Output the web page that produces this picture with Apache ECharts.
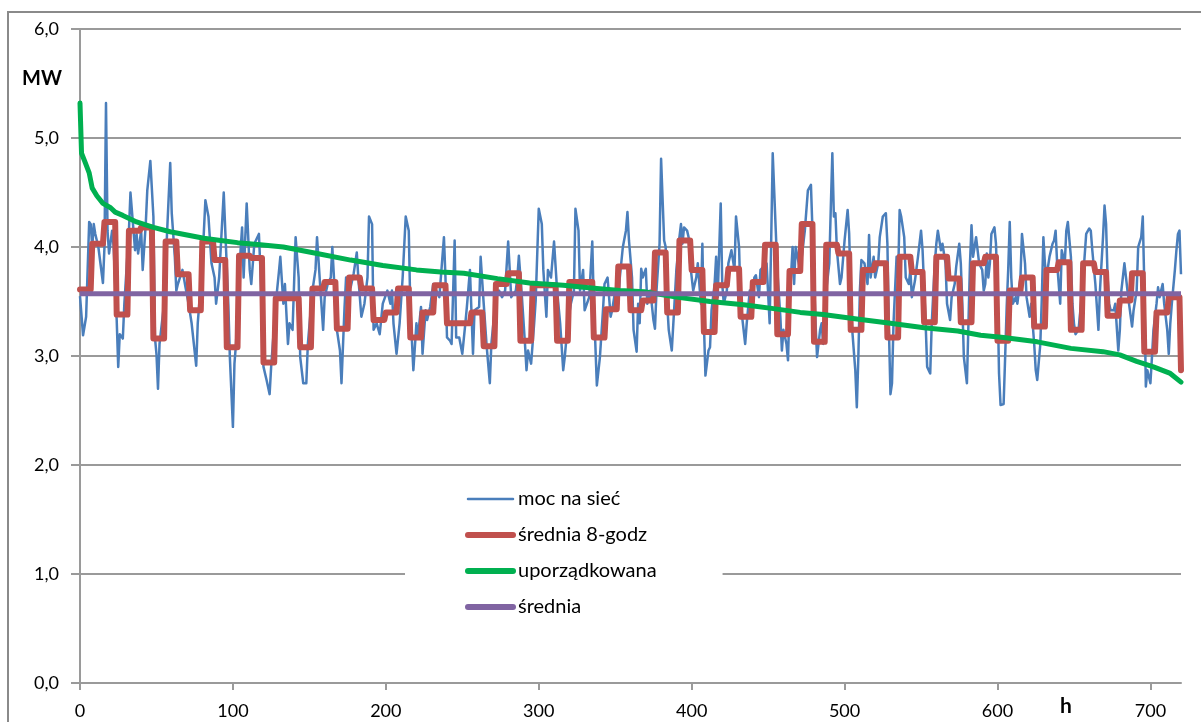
<!DOCTYPE html>
<html>
<head>
<meta charset="utf-8">
<script src="https://cdn.jsdelivr.net/npm/echarts@6/dist/echarts.min.js"></script>
<style>
html,body{margin:0;padding:0;background:#fff;}
#chart{width:1201px;height:722px;}
</style>
</head>
<body>
<div id="chart"></div>
<script>
// ---- data ----
const seriesNames = ['moc na sieć', 'średnia 8-godz', 'uporządkowana', 'średnia'];
const xTicks = [0, 100, 200, 300, 400, 500, 600, 700];
const yTicks = [0, 1, 2, 3, 4, 5, 6];

// hourly power to grid [hour, MW] (read at turning points)
const mocNaSiec = [
[0,3.55],[2,3.19],[4,3.36],[6,4.23],[7,4.21],[8,4.00],[9,4.21],[10,4.12],[12,4.00],[15,3.67],[16,4.00],[17,5.32],[18,4.15],[19,3.94],[21,4.15],[22,4.00],[24,3.33],[25,2.90],[26,3.20],[28,3.16],[29,3.48],
[32,4.15],[33,4.50],[35,4.15],[36,3.97],[37,4.12],[38,3.94],[40,4.15],[41,3.79],[43,4.21],[44,4.52],[46,4.79],[48,4.28],[49,3.17],[50,3.02],[51,2.70],[52,3.11],[55,3.48],[57,4.15],[59,4.77],[60,4.31],
[62,3.91],[63,3.60],[64,3.66],[67,3.79],[69,3.63],[71,3.48],[73,3.30],[76,2.91],[77,3.30],[80,3.85],[82,4.43],[84,4.28],[86,3.85],[88,3.72],[89,3.48],[91,3.72],[94,4.50],[95,4.15],[97,3.48],[98,2.99],
[100,2.35],[101,2.93],[102,3.11],[105,3.97],[106,4.18],[107,3.72],[109,4.40],[111,3.79],[112,3.66],[114,4.03],[117,4.12],[118,3.79],[120,2.90],[122,2.78],[124,2.65],[125,2.90],[128,3.48],[130,3.76],
[131,3.91],[133,3.48],[134,3.66],[136,3.11],[137,3.30],[139,3.24],[141,4.09],[143,3.72],[144,2.99],[146,2.75],[148,2.75],[149,3.11],[152,3.60],[154,3.79],[155,4.09],[157,3.66],[159,3.24],[160,3.54],
[162,3.66],[164,3.72],[165,4.00],[167,3.48],[168,3.24],[170,3.05],[171,2.75],[173,3.45],[174,3.72],[177,3.63],[179,3.76],[181,3.95],[182,3.72],[184,3.36],[186,3.48],[188,3.72],[189,4.28],[191,4.21],
[192,3.24],[194,3.30],[196,3.20],[198,3.48],[201,3.60],[203,3.48],[204,3.60],[205,3.30],[207,3.02],[209,3.30],[211,3.72],[213,4.28],[215,4.15],[216,3.45],[218,2.87],[220,3.30],[221,3.17],[223,3.45],
[224,3.02],[226,3.42],[227,3.33],[229,3.45],[231,3.66],[233,3.60],[235,3.54],[238,4.09],[239,3.72],[240,3.17],[242,3.14],[243,3.11],[245,4.06],[246,3.17],[248,3.17],[250,3.02],[252,3.30],[253,3.45],
[255,3.79],[257,3.02],[258,3.42],[261,3.45],[262,3.91],[264,3.48],[266,3.08],[268,2.75],[269,3.11],[272,3.54],[274,3.60],[276,3.54],[278,3.60],[280,4.05],[282,3.54],[285,3.60],[286,3.72],[287,3.92],
[289,3.54],[291,3.11],[292,2.87],[293,3.05],[295,2.93],[297,3.30],[298,3.51],[300,4.35],[302,4.21],[303,3.79],[305,3.36],[306,3.79],[308,3.72],[310,4.05],[312,3.60],[314,3.30],[316,2.87],[317,2.99],
[319,3.30],[321,3.48],[323,3.60],[324,4.35],[326,4.15],[327,3.60],[329,3.79],[330,3.42],[333,3.54],[335,4.05],[336,3.48],[337,3.11],[338,2.73],[340,2.99],[342,3.42],[343,3.66],[345,3.72],[347,3.36],
[348,3.42],[350,3.60],[352,3.48],[353,3.72],[355,4.00],[357,4.15],[358,4.32],[359,4.06],[361,3.72],[362,3.24],[364,3.04],[365,3.48],[366,3.30],[367,3.80],[368,3.72],[370,3.80],[371,3.48],[373,3.60],
[375,3.33],[376,3.25],[377,3.60],[379,4.03],[380,4.81],[382,4.06],[383,4.00],[384,3.48],[385,3.24],[387,3.05],[389,3.54],[390,3.79],[392,4.09],[393,4.21],[394,4.03],[395,4.18],[397,4.15],[398,4.09],
[399,3.85],[401,3.60],[403,3.72],[404,3.85],[406,3.48],[407,4.03],[408,3.30],[409,2.82],[411,3.05],[412,3.08],[413,3.42],[415,3.66],[416,3.91],[417,3.54],[419,4.40],[420,3.66],[421,3.48],[423,3.60],
[424,3.85],[426,3.97],[428,3.79],[429,4.28],[431,4.00],[432,3.48],[433,3.36],[435,3.11],[436,3.30],[438,3.60],[439,3.48],[441,3.72],[442,3.74],[444,3.54],[445,3.79],[447,3.82],[449,3.85],[451,3.30],
[452,4.06],[453,4.86],[455,4.15],[456,3.79],[458,3.36],[459,3.05],[460,3.24],[462,3.11],[463,2.96],[464,3.48],[466,4.00],[467,3.66],[468,4.00],[470,3.85],[471,3.79],[472,3.91],[474,4.15],[476,4.52],
[478,4.57],[479,4.15],[481,3.30],[482,2.99],[484,3.24],[485,3.30],[486,3.11],[488,3.60],[490,3.85],[491,4.37],[492,4.86],[493,4.28],[494,4.31],[495,3.97],[497,3.66],[498,3.72],[500,4.06],[502,4.34],
[503,4.12],[504,3.60],[505,3.24],[507,2.87],[508,2.53],[509,2.99],[510,3.60],[511,3.88],[513,3.85],[515,3.66],[516,4.11],[517,3.72],[519,3.91],[520,3.72],[522,3.85],[523,4.09],[525,4.28],[527,4.31],
[528,4.03],[529,3.24],[530,2.65],[531,2.75],[532,3.30],[534,3.91],[535,3.72],[536,4.34],[537,4.28],[539,4.09],[540,3.72],[542,3.66],[543,3.79],[544,3.54],[546,3.69],[548,3.91],[550,4.15],[551,3.97],
[553,3.30],[554,2.90],[556,2.84],[557,3.30],[559,3.85],[560,4.03],[561,4.15],[563,3.97],[564,4.03],[566,3.85],[567,3.48],[569,3.33],[570,3.54],[572,3.66],[573,3.82],[575,4.03],[576,3.85],[577,3.48],
[578,2.99],[580,2.75],[581,3.30],[582,3.85],[583,4.20],[584,3.91],[586,4.09],[588,3.85],[590,3.79],[591,3.60],[592,3.66],[593,3.94],[594,3.72],[595,3.85],[596,4.12],[598,4.18],[599,4.03],[600,3.60],
[601,2.84],[602,2.55],[604,2.56],[605,2.99],[606,3.45],[607,3.79],[608,4.23],[609,3.72],[610,3.48],[612,3.54],[613,3.48],[615,3.72],[616,4.12],[618,3.85],[619,3.54],[621,3.36],[622,3.48],[624,3.11],
[625,2.87],[626,2.78],[628,3.11],[629,3.54],[630,4.09],[631,3.85],[632,3.72],[634,3.91],[636,4.03],[637,4.06],[638,4.15],[639,3.85],[641,3.48],[642,3.97],[644,3.85],[645,4.15],[646,4.23],[648,3.91],
[649,3.48],[650,3.30],[651,3.20],[653,3.24],[655,3.54],[656,3.72],[658,4.12],[660,4.17],[661,4.15],[662,3.97],[664,3.66],[666,3.24],[667,3.60],[669,4.09],[670,4.38],[671,4.21],[672,3.72],[673,3.48],
[674,3.42],[676,3.42],[677,3.48],[679,3.05],[680,3.24],[681,3.60],[683,3.85],[685,3.60],[686,3.48],[688,3.27],[689,3.42],[691,3.60],[692,4.00],[694,4.09],[695,4.28],[696,3.66],[697,2.72],[698,2.87],
[700,2.75],[701,2.99],[702,3.24],[703,3.36],[704,3.48],[705,3.63],[706,3.54],[708,3.66],[709,3.48],[711,3.24],[712,3.02],[713,3.30],[714,3.48],[716,3.79],[717,3.97],[718,4.12],[719,4.15],[720,3.75]
];

// 8-hour block averages (90 blocks of 8 h) and the value at hour 720
const avg8Levels = [
3.61,4.03,4.23,3.38,4.15,4.18,3.16,4.05,3.75,3.42,
4.05,3.88,3.08,3.92,3.90,2.94,3.53,3.53,3.08,3.62,
3.68,3.25,3.72,3.62,3.33,3.40,3.62,3.17,3.40,3.65,
3.30,3.30,3.40,3.09,3.66,3.76,3.14,3.65,3.65,3.14,
3.68,3.68,3.17,3.43,3.82,3.42,3.51,3.95,3.40,4.06,
3.79,3.22,3.65,3.80,3.36,3.68,4.02,3.20,3.78,4.21,
3.13,4.02,3.94,3.24,3.79,3.85,3.17,3.91,3.77,3.31,
3.91,3.71,3.31,3.85,3.91,3.14,3.60,3.72,3.27,3.79,
3.86,3.24,3.85,3.77,3.37,3.51,3.76,3.04,3.40,3.54
];
const avg8Last = 2.87;
const blockHours = 8;

// duration curve [hour, MW]
const uporzadkowana = [
[0,5.32],[1,4.86],[3,4.79],[6,4.68],[8,4.54],[11,4.47],[15,4.40],[20,4.36],[23,4.32],[28,4.29],[37,4.23],[48,4.18],[59,4.14],[70,4.11],[81,4.08],[92,4.06],[103,4.04],[118,4.02],[133,4.00],
[155,3.94],[177,3.88],[198,3.83],[220,3.79],[236,3.77],[251,3.76],[273,3.71],[294,3.67],[316,3.65],[338,3.62],[353,3.60],[369,3.59],[390,3.54],[412,3.50],[434,3.47],[456,3.43],[471,3.40],
[486,3.38],[508,3.34],[530,3.30],[552,3.26],[574,3.23],[589,3.19],[604,3.17],[626,3.13],[648,3.07],[669,3.04],[680,3.01],[691,2.95],[702,2.90],[713,2.84],[720,2.76]
];

// overall mean
const sredniaValue = 3.57;
const hourRange = [0, 720];

// ---- build series data from the arrays ----
const avg8Data = [];
avg8Levels.forEach((v, k) => {
  avg8Data.push([k * blockHours, v]);
  avg8Data.push([k * blockHours + blockHours - 1, v]);
});
avg8Data.push([hourRange[1], avg8Last]);
const sredniaData = [[hourRange[0], sredniaValue], [hourRange[1], sredniaValue]];

const FONT = 'Lato';
const grey = '#9a9a9a';
const chart = echarts.init(document.getElementById('chart'));
chart.setOption({
  animation: false,
  backgroundColor: '#fff',
  grid: { left: 80, right: 20, top: 29, bottom: 39, containLabel: false },
  xAxis: {
    type: 'value', min: hourRange[0], max: hourRange[1], interval: 100,
    axisLine: { show: true, onZero: false, lineStyle: { color: grey, width: 2 } },
    axisTick: { show: true, length: 7, lineStyle: { color: grey, width: 2 }, customValues: xTicks },
    axisLabel: { color: '#000', fontFamily: FONT, fontSize: 18, margin: 19, customValues: xTicks },
    splitLine: { show: false }
  },
  yAxis: {
    type: 'value', min: 0, max: 6, interval: 1,
    axisLine: { show: true, lineStyle: { color: grey, width: 2 } },
    axisTick: { show: true, length: 9, lineStyle: { color: grey, width: 2 } },
    axisLabel: { color: '#000', fontFamily: FONT, fontSize: 18, margin: 21,
      formatter: v => v.toFixed(1).replace('.', ',') },
    splitLine: { show: true, lineStyle: { color: grey, width: 2 } }
  },
  legend: {
    orient: 'vertical', left: 405, top: 481,
    padding: [8, 66, 10, 60],
    backgroundColor: '#fff',
    itemWidth: 45, itemHeight: 14, itemGap: 16,
    itemStyle: { opacity: 0 },
    textStyle: { color: '#000', fontFamily: FONT, fontSize: 20 },
    data: [
      { name: seriesNames[0], lineStyle: { width: 2.5, cap: 'round' } },
      { name: seriesNames[1], lineStyle: { width: 6, cap: 'round' } },
      { name: seriesNames[2], lineStyle: { width: 6, cap: 'round' } },
      { name: seriesNames[3], lineStyle: { width: 6, cap: 'round' } }
    ]
  },
  graphic: [
    { type: 'rect', shape: { x: 8, y: 12, width: 1400, height: 900 }, style: { fill: 'none', stroke: '#8a8a8a', lineWidth: 2 }, silent: true },
    { type: 'text', left: 22, top: 69, style: { text: 'MW', font: 'bold 20px Lato', fill: '#000' } },
    { type: 'text', left: 1060, top: 696, style: { text: 'h', font: 'bold 21px Lato', fill: '#000' } }
  ],
  series: [
    { name: seriesNames[0], type: 'line', data: mocNaSiec, symbol: 'none', z: 2,
      lineStyle: { color: '#4a7ebb', width: 2.5, join: 'round' }, itemStyle: { color: '#4a7ebb' } },
    { name: seriesNames[1], type: 'line', data: avg8Data, symbol: 'none', z: 3,
      lineStyle: { color: '#c0504d', width: 6, join: 'round', cap: 'round' }, itemStyle: { color: '#c0504d' } },
    { name: seriesNames[2], type: 'line', data: uporzadkowana, symbol: 'none', z: 4,
      lineStyle: { color: '#00b050', width: 5, join: 'round', cap: 'round' }, itemStyle: { color: '#00b050' } },
    { name: seriesNames[3], type: 'line', data: sredniaData, symbol: 'none', z: 5,
      lineStyle: { color: '#8064a2', width: 5 }, itemStyle: { color: '#8064a2' } }
  ]
});
</script>
</body>
</html>
